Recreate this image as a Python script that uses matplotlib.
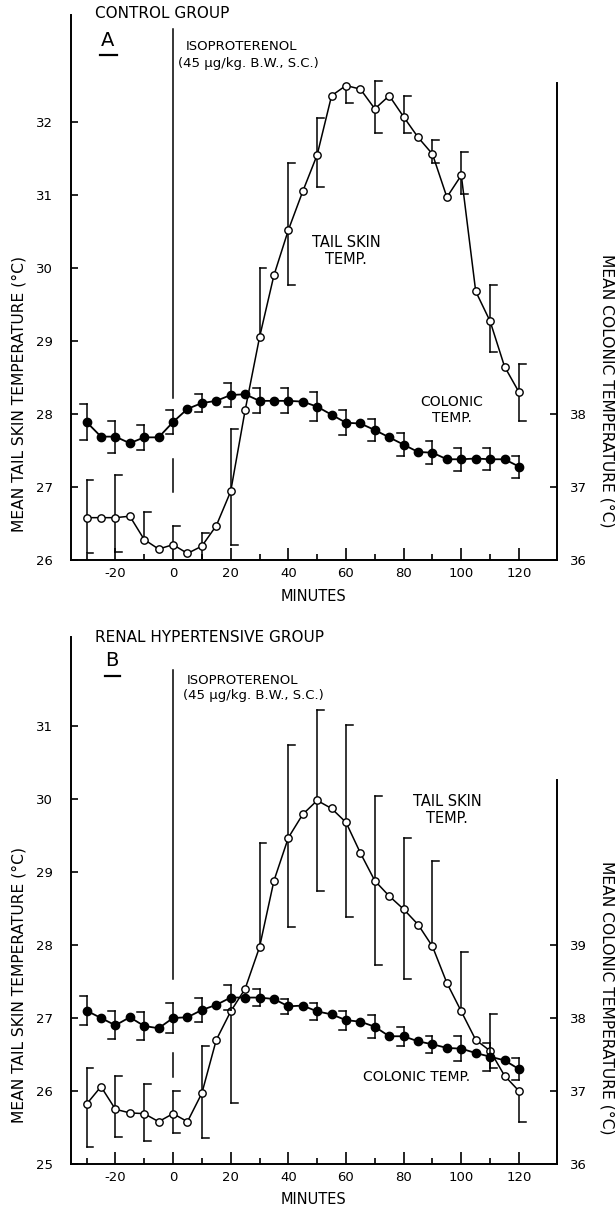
import numpy as np
import matplotlib
matplotlib.use("Agg")
import matplotlib.pyplot as plt
from matplotlib.collections import LineCollection
from matplotlib.lines import Line2D

plt.rcParams['font.family'] = ['DejaVu Sans']

W, H = 616, 1208

# ---------------- data ----------------
minutes = [-30, -25, -20, -15, -10, -5, 0, 5, 10, 15, 20, 25, 30, 35, 40, 45,
           50, 55, 60, 65, 70, 75, 80, 85, 90, 95, 100, 105, 110, 115, 120]
err_minutes = [-30, -20, -10, 0, 10, 20, 30, 40, 50, 60, 70, 80, 90, 100, 110, 120]

# Panel A: control group
a_tail = [26.58, 26.58, 26.58, 26.60, 26.28, 26.15, 26.21, 26.09, 26.19, 26.47,
          26.94, 28.05, 29.05, 29.90, 30.52, 31.05, 31.55, 32.36, 32.50, 32.45,
          32.18, 32.36, 32.07, 31.79, 31.56, 30.97, 31.27, 29.68, 29.27, 28.65, 28.30]
a_tail_err_up = [0.52, 0.58, 0.38, 0.26, 0.18, 0.86, 0.95, 0.92, 0.50, 0.00,
                 0.38, 0.29, 0.19, 0.32, 0.50, 0.38]
a_tail_err_lo = [0.48, 0.47, 0.00, 0.00, 0.19, 0.73, 0.00, 0.75, 0.44, 0.24,
                 0.33, 0.22, 0.12, 0.26, 0.42, 0.40]
a_colonic = [37.89, 37.69, 37.69, 37.60, 37.68, 37.68, 37.89, 38.07, 38.15, 38.18,
             38.26, 38.27, 38.18, 38.18, 38.18, 38.17, 38.10, 37.99, 37.88, 37.87,
             37.78, 37.68, 37.58, 37.48, 37.47, 37.38, 37.38, 37.39, 37.38, 37.38, 37.28]
a_colonic_err = [0.25, 0.22, 0.17, 0.17, 0.12, 0.17, 0.17, 0.17, 0.20, 0.17,
                 0.15, 0.16, 0.16, 0.16, 0.15, 0.15]

# Panel B: renal hypertensive group
b_tail = [25.82, 26.06, 25.75, 25.70, 25.69, 25.58, 25.69, 25.58, 25.97, 26.70,
          27.09, 27.40, 27.97, 28.88, 29.47, 29.79, 29.98, 29.87, 29.68, 29.26,
          28.88, 28.67, 28.49, 28.28, 27.98, 27.48, 27.09, 26.70, 26.55, 26.21, 26.00]
b_tail_err_up = [0.50, 0.45, 0.40, 0.31, 0.65, 0.00, 1.43, 1.27, 1.24, 1.33,
                 1.16, 0.97, 1.17, 0.81, 0.50, 0.00]
b_tail_err_lo = [0.59, 0.38, 0.37, 0.27, 0.62, 1.26, 0.00, 1.22, 1.24, 1.30,
                 1.15, 0.96, 0.00, 0.00, 0.24, 0.42]
b_colonic = [38.10, 38.00, 37.90, 38.01, 37.89, 37.86, 38.00, 38.01, 38.11, 38.18,
             38.28, 38.28, 38.28, 38.26, 38.16, 38.17, 38.09, 38.05, 37.97, 37.95,
             37.88, 37.75, 37.75, 37.68, 37.64, 37.59, 37.58, 37.52, 37.47, 37.42, 37.30]
b_colonic_err = [0.20, 0.19, 0.19, 0.20, 0.17, 0.17, 0.12, 0.10, 0.12, 0.13,
                 0.16, 0.13, 0.12, 0.17, 0.19, 0.15]

x_ticks_major = [-20, 0, 20, 40, 60, 80, 100, 120]
x_tick_labels = ['-20', '0', '20', '40', '60', '80', '100', '120']
x_ticks_minor = [-30, -10, 10, 30, 50, 70, 90, 110]

a_left_ticks = [26, 27, 28, 29, 30, 31, 32]
a_right_ticks = [36, 37, 38]
b_left_ticks = [25, 26, 27, 28, 29, 30, 31]
b_right_ticks = [36, 37, 38, 39]

injection_time = 0
a_injection_segments = [(33.27, 28.22), (27.38, 26.93)]
b_injection_segments = [(31.77, 27.53), (26.52, 26.19)]


def px(x, y):
    return x / W, 1 - y / H


def brackets(ax, xs, ys, up, lo, side, serif=2.4, lw=1.1):
    segs = []
    for x, y, u, l in zip(xs, ys, up, lo):
        top, bot = y + u, y - l
        segs.append([(x, bot), (x, top)])
        if u > 0:
            segs.append([(x, top), (x + side * serif, top)])
        if l > 0:
            segs.append([(x, bot), (x + side * serif, bot)])
    ax.add_collection(LineCollection(segs, colors='black', linewidths=lw,
                                     zorder=2, capstyle='projecting'))


def panel(rect, ylim, offset, right_top, left_ticks, right_ticks,
          tail, tail_up, tail_lo, colonic, colonic_err, inj_segments):
    ax = fig.add_axes(rect)
    ax2 = ax.twinx()
    ax.set_xlim(-35.4, 133.2)
    ax.set_ylim(*ylim)
    ax2.set_ylim(ylim[0] + offset, ylim[1] + offset)
    ax2.patch.set_visible(False)

    for s in ['top', 'right']:
        ax.spines[s].set_visible(False)
    for s in ['top', 'left', 'bottom']:
        ax2.spines[s].set_visible(False)
    for s in ['left', 'bottom']:
        ax.spines[s].set_linewidth(1.4)
    ax2.spines['right'].set_linewidth(1.4)
    ax2.spines['right'].set_bounds(ylim[0] + offset, right_top)

    ax.set_xticks(x_ticks_major)
    ax.set_xticklabels(x_tick_labels)
    ax.set_xticks(x_ticks_minor, minor=True)
    ax.tick_params(axis='x', which='major', direction='in', length=9, width=1.2,
                   labelsize=9.5, pad=5)
    ax.tick_params(axis='x', which='minor', direction='in', length=4, width=1.2)
    ax.set_yticks(left_ticks)
    ax.tick_params(axis='y', direction='in', length=5, width=1.2, labelsize=9.5,
                   pad=13)
    ax2.set_yticks(right_ticks)
    ax2.tick_params(axis='y', direction='in', length=5, width=1.2, labelsize=9.5,
                    pad=9)

    for (y0, y1) in inj_segments:
        ax.plot([injection_time, injection_time], [y0, y1], color='black',
                lw=1.1, zorder=1)

    tail_map = dict(zip(minutes, tail))
    col_map = dict(zip(minutes, colonic))
    brackets(ax, err_minutes, [tail_map[m] for m in err_minutes],
             tail_up, tail_lo, side=+1)
    brackets(ax2, err_minutes, [col_map[m] for m in err_minutes],
             colonic_err, colonic_err, side=-1)

    ax.plot(minutes, tail, color='black', lw=1.1, marker='o', ms=5.3,
            mfc='white', mec='black', mew=1.0, zorder=3)
    ax2.plot(minutes, colonic, color='black', lw=1.3, marker='o', ms=6.0,
             mfc='black', mec='black', zorder=3)
    return ax, ax2


fig = plt.figure(figsize=(W / 100, H / 100), dpi=100)

# Panel A
panel([71 / W, 1 - 560 / H, 486 / W, 545 / H], (26, 26 + 545 / 73), 10, 42.53,
      a_left_ticks, a_right_ticks, a_tail, a_tail_err_up, a_tail_err_lo,
      a_colonic, a_colonic_err, a_injection_segments)
# Panel B
panel([71 / W, 1 - 1164 / H, 486 / W, 527 / H], (25, 25 + 527 / 73), 11, 41.26,
      b_left_ticks, b_right_ticks, b_tail, b_tail_err_up, b_tail_err_lo,
      b_colonic, b_colonic_err, b_injection_segments)

ylab_kw = dict(fontsize=11.2, ha='center', va='center')
# Panel A texts
fig.text(*px(95, 13), 'CONTROL GROUP', fontsize=11, ha='left', va='center')
fig.text(*px(108, 40), 'A', fontsize=14, ha='center', va='center')
fig.add_artist(Line2D([100 / W, 117 / W], [1 - 55 / H, 1 - 55 / H],
                      color='black', lw=1.6))
fig.text(*px(186, 47), 'ISOPROTERENOL', fontsize=9.5, ha='left', va='center')
fig.text(*px(178, 64), '(45 \u00b5g/kg. B.W., S.C.)', fontsize=9.5, ha='left',
         va='center')
fig.text(*px(346, 251), 'TAIL SKIN\nTEMP.', fontsize=10.5, ha='center',
         va='center', linespacing=1.1)
fig.text(*px(452, 410), 'COLONIC\nTEMP.', fontsize=10, ha='center',
         va='center', linespacing=1.1)
fig.text(*px(314, 597), 'MINUTES', fontsize=10.5, ha='center', va='center')
fig.text(*px(19, 394), 'MEAN TAIL SKIN TEMPERATURE (\u00b0C)', rotation=90,
         **ylab_kw)
fig.text(*px(607, 391), 'MEAN COLONIC TEMPERATURE (\u00b0C)', rotation=270,
         **ylab_kw)

# Panel B texts
fig.text(*px(95, 637), 'RENAL HYPERTENSIVE GROUP', fontsize=11, ha='left',
         va='center')
fig.text(*px(112, 661), 'B', fontsize=14, ha='center', va='center')
fig.add_artist(Line2D([105 / W, 120 / W], [1 - 676 / H, 1 - 676 / H],
                      color='black', lw=1.6))
fig.text(*px(187, 680), 'ISOPROTERENOL', fontsize=9.5, ha='left', va='center')
fig.text(*px(183, 695), '(45 \u00b5g/kg. B.W., S.C.)', fontsize=9.5, ha='left',
         va='center')
fig.text(*px(447, 810), 'TAIL SKIN\nTEMP.', fontsize=10.5, ha='center',
         va='center', linespacing=1.1)
fig.text(*px(417, 1077), 'COLONIC TEMP.', fontsize=10, ha='center', va='center')
fig.text(*px(314, 1200), 'MINUTES', fontsize=10.5, ha='center', va='center')
fig.text(*px(19, 985), 'MEAN TAIL SKIN TEMPERATURE (\u00b0C)', rotation=90,
         **ylab_kw)
fig.text(*px(607, 998), 'MEAN COLONIC TEMPERATURE (\u00b0C)', rotation=270,
         **ylab_kw)

fig.savefig('out.png', dpi=100)
